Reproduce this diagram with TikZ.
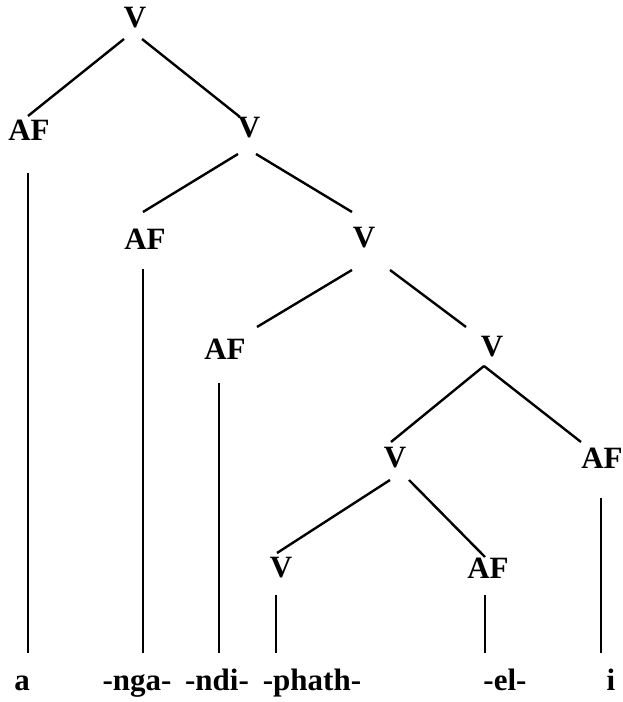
\documentclass[tikz,border=0pt]{standalone}
\usepackage{fontspec}
\setmainfont{Liberation Serif}
\usepackage{tikz}
\usetikzlibrary{calc}
\def\branch(#1)(#2)(#3)(#4){\draw[line width=2.4pt] ($(#1)+(#2)$) -- ($(#3)+(#4)$);}
\def\stem(#1)(#2){\draw[line width=2.4pt] ($(#1)+(#2)$) coordinate (top) -- (top |- base);}
\tikzset{
	cat/.style={font=\fontsize{31}{36}\selectfont\bfseries, inner sep=0pt},
	morph/.style={cat, anchor=base}
}

\begin{document}
\begin{tikzpicture}[x=10pt, y=10pt]
		%%%%% START %%%%%
		\useasboundingbox (0, 0) rectangle (62.3, 70.2);
		\coordinate (base) at (0, 4.9);
		
		\node[cat] (vtop) at (13.5, 68.4) {V};
		\node[cat] (af1) at (2.9, 57.2) {AF};
		\node[cat] (v2) at (24.9, 57.4) {V};
		\node[cat] (af2) at (14.5, 46.3) {AF};
		\node[cat] (v3) at (36.4, 46.4) {V};
		\node[cat] (af3) at (22.5, 35.3) {AF};
		\node[cat] (v4) at (49.2, 35.5) {V};
		\node[cat] (v5) at (39.5, 24.4) {V};
		\node[cat] (af4) at (60.2, 24.4) {AF};
		\node[cat] (v6) at (28.1, 13.4) {V};
		\node[cat] (af5) at (48.8, 13.4) {AF};
		
		\branch(vtop)(-1.1,-2.1)(af1)(-0.1,1.4)
		\branch(vtop)(0.7,-2.1)(v2)(-0.9,1.1)
		\branch(v2)(-1.1,-2.6)(af2)(-0.2,2.7)
		\branch(v2)(0.7,-2.6)(v3)(-1.2,2.6)
		\branch(v3)(-1.2,-3.2)(af3)(3.2,2.2)
		\branch(v3)(2.6,-3.2)(v4)(-2.6,2.0)
		\branch(v4)(-0.8,-1.9)(v5)(-0.4,1.6)
		\branch(v4)(-0.8,-1.9)(af4)(-2.1,1.6)
		\branch(v5)(-0.5,-2.2)(v6)(-0.4,1.5)
		\branch(v5)(1.4,-2.2)(af5)(-0.3,1.1)
		
		\stem(af1)(-0.1,-4.3)
		\stem(af2)(-0.2,-3.0)
		\stem(af3)(-0.6,-3.4)
		\stem(af4)(-0.1,-4.0)
		\stem(v6)(-0.5,-2.7)
		\stem(af5)(-0.3,-2.7)
		
		\node[morph] (ma) at (2.2, 1.2) {a};
		\node[morph] (mnga) at (13.7, 1.2) {-nga-};
		\node[morph] (mndi) at (21.7, 1.2) {-ndi-};
		\node[morph] (mphath) at (31.2, 1.2) {-phath-};
		\node[morph] (mel) at (50.5, 1.2) {-el-};
		\node[morph] (mi) at (61.1, 1.2) {i};
		
		%%%%% END %%%%%
	\end{tikzpicture}
\end{document}
